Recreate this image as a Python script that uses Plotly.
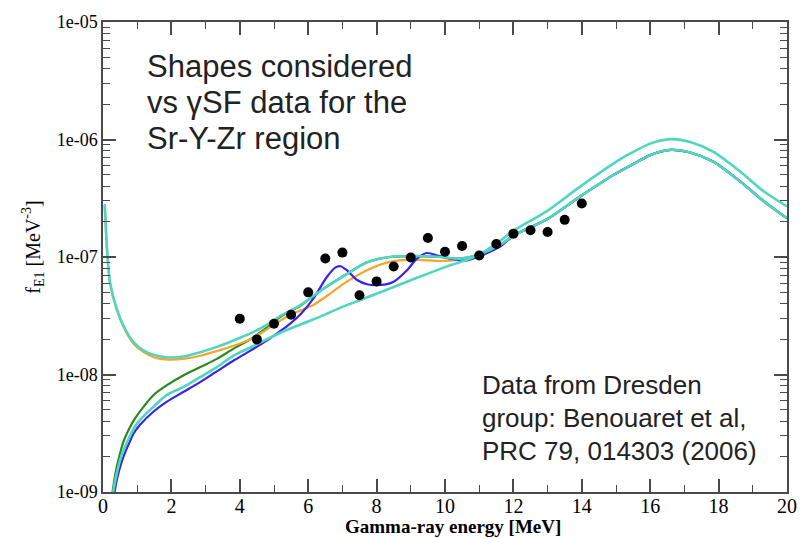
import plotly.graph_objects as go

# ---------------- data ----------------
x_tick_vals = [0, 2, 4, 6, 8, 10, 12, 14, 16, 18, 20]
y_tick_vals = [1e-9, 1e-8, 1e-7, 1e-6, 1e-5]
y_tick_text = ["1e-09", "1e-08", "1e-07", "1e-06", "1e-05"]

# Dresden data points (gamma energy [MeV], f_E1 [MeV^-3])
data_e = [4.0, 4.5, 5.0, 5.5, 6.0, 6.5, 7.0, 7.5, 8.0, 8.5, 9.0, 9.5, 10.0,
          10.5, 11.0, 11.5, 12.0, 12.5, 13.0, 13.5, 14.0]
data_f = [2.98e-8, 1.99e-8, 2.70e-8, 3.22e-8, 5.0e-8, 9.7e-8, 1.09e-7, 4.73e-8,
          6.2e-8, 8.3e-8, 9.9e-8, 1.45e-7, 1.11e-7, 1.24e-7, 1.03e-7, 1.29e-7,
          1.58e-7, 1.69e-7, 1.63e-7, 2.07e-7, 2.85e-7]

# curves given as log10(f)
gdr_low_e = [12.0, 12.98, 13.96, 14.93, 15.42, 16.0, 16.59, 17.17, 17.85, 18.63, 19.32, 20.0]
gdr_low_logf = [-6.819, -6.679, -6.483, -6.301, -6.223, -6.133, -6.088, -6.111, -6.19,
                -6.357, -6.525, -6.672]
gdr_up_e = [12.0, 12.98, 13.96, 14.93, 15.42, 16.0, 16.59, 17.17, 17.85, 18.63, 19.32, 20.0]
gdr_up_logf = [-6.777, -6.609, -6.399, -6.203, -6.119, -6.035, -5.997, -6.022, -6.106,
               -6.273, -6.441, -6.57]

teal_a_e = [0.05, 0.07, 0.12, 0.21, 0.41, 0.65, 0.90, 1.19, 1.5, 1.9, 2.4, 2.85, 3.33,
            3.82, 4.31, 4.8, 5.19, 5.77, 6.16, 6.55, 7.13, 7.72, 8.39, 9.07, 9.86,
            10.45, 11.03, 11.62]
teal_a_logf = [-6.55, -6.665, -6.945, -7.224, -7.448, -7.616, -7.727, -7.797, -7.835,
               -7.855, -7.845, -7.81, -7.765, -7.71, -7.65, -7.575, -7.5, -7.41, -7.33,
               -7.25, -7.145, -7.045, -7.0, -6.992, -7.0, -7.014, -6.975, -6.895]

orange_e = [0.05, 0.12, 0.21, 0.41, 0.65, 0.90, 1.19, 1.5, 1.9, 2.4, 2.85, 3.33, 3.82,
            4.31, 4.8, 5.0, 5.5, 6.16, 6.55, 7.13, 7.72, 8.39, 9.07, 9.86, 10.45,
            11.03, 11.62]
orange_logf = [-6.56, -6.95, -7.23, -7.455, -7.625, -7.74, -7.81, -7.855, -7.873, -7.865,
               -7.84, -7.80, -7.755, -7.70, -7.615, -7.575, -7.49, -7.406, -7.33, -7.21,
               -7.112, -7.042, -7.023, -7.034, -7.023, -6.99, -6.91]

green_e = [0.24, 0.28, 0.32, 0.4, 0.5, 0.6, 0.75, 0.9, 1.19, 1.48, 1.87, 2.36, 2.85,
           3.33, 3.82, 4.31, 4.8, 5.19, 5.77, 6.16, 6.55, 7.13, 7.72, 8.39, 9.07, 9.86,
           10.45, 11.03, 11.62]
green_logf = [-9.2, -9.0, -8.92, -8.79, -8.67, -8.57, -8.47, -8.39, -8.273, -8.174,
              -8.091, -8.007, -7.937, -7.867, -7.78, -7.70, -7.6, -7.51, -7.415, -7.33,
              -7.25, -7.145, -7.045, -7.0, -6.992, -7.0, -7.014, -6.975, -6.895]

blue_e = [0.30, 0.34, 0.38, 0.45, 0.55, 0.65, 0.75, 0.9, 1.09, 1.48, 1.87, 2.36, 2.85,
          3.33, 3.82, 4.31, 4.8, 5.19, 5.5, 5.77, 6.16, 6.55, 6.79, 6.94, 7.13, 7.43,
          7.72, 8.11, 8.5, 8.89, 9.18, 9.47, 9.77, 10.15, 10.64, 11.03, 11.62]
blue_logf = [-9.2, -9.0, -8.93, -8.84, -8.74, -8.66, -8.594, -8.5, -8.426, -8.315,
             -8.231, -8.147, -8.063, -7.973, -7.881, -7.797, -7.71, -7.629, -7.56, -7.49,
             -7.35, -7.168, -7.09, -7.079, -7.112, -7.196, -7.232, -7.238, -7.21, -7.112,
             -7.014, -6.966, -6.987, -7.014, -7.028, -6.99, -6.91]

teal_d_e = [0.26, 0.30, 0.34, 0.42, 0.52, 0.62, 0.76, 0.9, 1.09, 1.48, 1.87, 2.36, 2.85,
            3.33, 3.82, 4.31, 5.19, 6.16, 7.13, 8.11, 9.07, 10.06, 10.93, 11.62]
teal_d_logf = [-9.2, -9.0, -8.93, -8.82, -8.71, -8.63, -8.54, -8.46, -8.384, -8.273,
               -8.174, -8.105, -8.021, -7.937, -7.84, -7.77, -7.645, -7.53, -7.41, -7.3,
               -7.19, -7.08, -6.99, -6.86]

# ---------------- styles ----------------
TEAL = "#4fd6c0"
ORANGE = "#f6a52a"
GREEN = "#2a8a1c"
BLUE = "#3a22ee"
AXIS = "#4a4a4a"


def lin(vals):
    return [10 ** v for v in vals]


fig = go.Figure()


def add_curve(xs, ys, color, width=2.2):
    fig.add_trace(go.Scatter(x=xs, y=lin(ys), mode="lines",
                             line=dict(color=color, width=width, shape="spline", smoothing=0.8),
                             showlegend=False, hoverinfo="skip"))


add_curve(green_e + gdr_low_e, green_logf + gdr_low_logf, GREEN)
add_curve(orange_e + gdr_low_e, orange_logf + gdr_low_logf, ORANGE)
add_curve(blue_e + gdr_low_e, blue_logf + gdr_low_logf, BLUE)
add_curve(teal_d_e + gdr_up_e, teal_d_logf + gdr_up_logf, TEAL, 2.6)
add_curve(teal_a_e + gdr_low_e, teal_a_logf + gdr_low_logf, TEAL, 2.6)

fig.add_trace(go.Scatter(x=data_e, y=data_f, mode="markers",
                         marker=dict(color="black", size=10),
                         showlegend=False, hoverinfo="skip"))

minor_y = [m * d for d in [1e-9, 1e-8, 1e-7, 1e-6] for m in range(2, 10)]

fig.update_xaxes(range=[0, 20], tickvals=x_tick_vals, ticks="inside", ticklen=13,
                 tickwidth=1.5, tickcolor=AXIS, showline=True, linecolor=AXIS,
                 linewidth=1.5, mirror="allticks", showgrid=False, zeroline=False,
                 ticklabelstandoff=-5,
                 tickfont=dict(family="Liberation Serif", size=20, color="black"),
                 minor=dict(dtick=1, ticks="inside", ticklen=7, tickwidth=1.2,
                            tickcolor=AXIS, showgrid=False))
fig.update_yaxes(type="log", range=[-9, -5], tickvals=y_tick_vals, ticktext=y_tick_text,
                 ticks="inside", ticklen=13, tickwidth=1.5, tickcolor=AXIS,
                 showline=True, linecolor=AXIS, linewidth=1.5, mirror="allticks",
                 showgrid=False, zeroline=False,
                 tickfont=dict(family="Liberation Serif", size=18, color="black"),
                 minor=dict(tickvals=minor_y, ticks="inside", ticklen=7, tickwidth=1.2,
                            tickcolor=AXIS, showgrid=False))

# text blocks, one annotation per line (pixel rows converted to paper coords)
PLOT_TOP, PLOT_BOTTOM, PLOT_LEFT, PLOT_W = 15, 492, 103, 684
PLOT_H = PLOT_BOTTOM - PLOT_TOP


def px_x(p):
    return (p - PLOT_LEFT) / PLOT_W


def px_y(p):
    return (PLOT_BOTTOM - p) / PLOT_H


shapes_lines = ["Shapes considered", "vs γSF data for the", "Sr-Y-Zr region"]
shapes_rows = [60, 96.5, 133]
for line, row in zip(shapes_lines, shapes_rows):
    fig.add_annotation(text=line, xref="paper", yref="paper", x=px_x(145), y=px_y(row),
                       xanchor="left", yanchor="middle", align="left", showarrow=False,
                       font=dict(family="Liberation Sans", size=31, color="#222222"))

source_lines = ["Data from Dresden", "group: Benouaret et al,", "PRC 79, 014303 (2006)"]
source_rows = [383.5, 416.5, 450]
for line, row in zip(source_lines, source_rows):
    fig.add_annotation(text=line, xref="paper", yref="paper", x=px_x(480), y=px_y(row),
                       xanchor="left", yanchor="middle", align="left", showarrow=False,
                       font=dict(family="Liberation Sans", size=26, color="#222222"))

fig.add_annotation(text="<b>Gamma-ray energy [MeV]</b>", xref="paper", yref="paper",
                   x=px_x(452.5), y=px_y(527), xanchor="center", yanchor="middle",
                   showarrow=False,
                   font=dict(family="Liberation Serif", size=19, color="black"))
fig.add_annotation(text="f<sub>E1</sub> [MeV<sup>-3</sup>]", xref="paper", yref="paper",
                   x=px_x(33), y=px_y(244), xanchor="center", yanchor="middle",
                   textangle=-90, showarrow=False,
                   font=dict(family="Liberation Serif", size=20, color="black"))

fig.update_layout(width=809, height=538, margin=dict(l=103, r=22, t=15, b=46),
                  paper_bgcolor="white", plot_bgcolor="white")

fig.write_html("out.html")
